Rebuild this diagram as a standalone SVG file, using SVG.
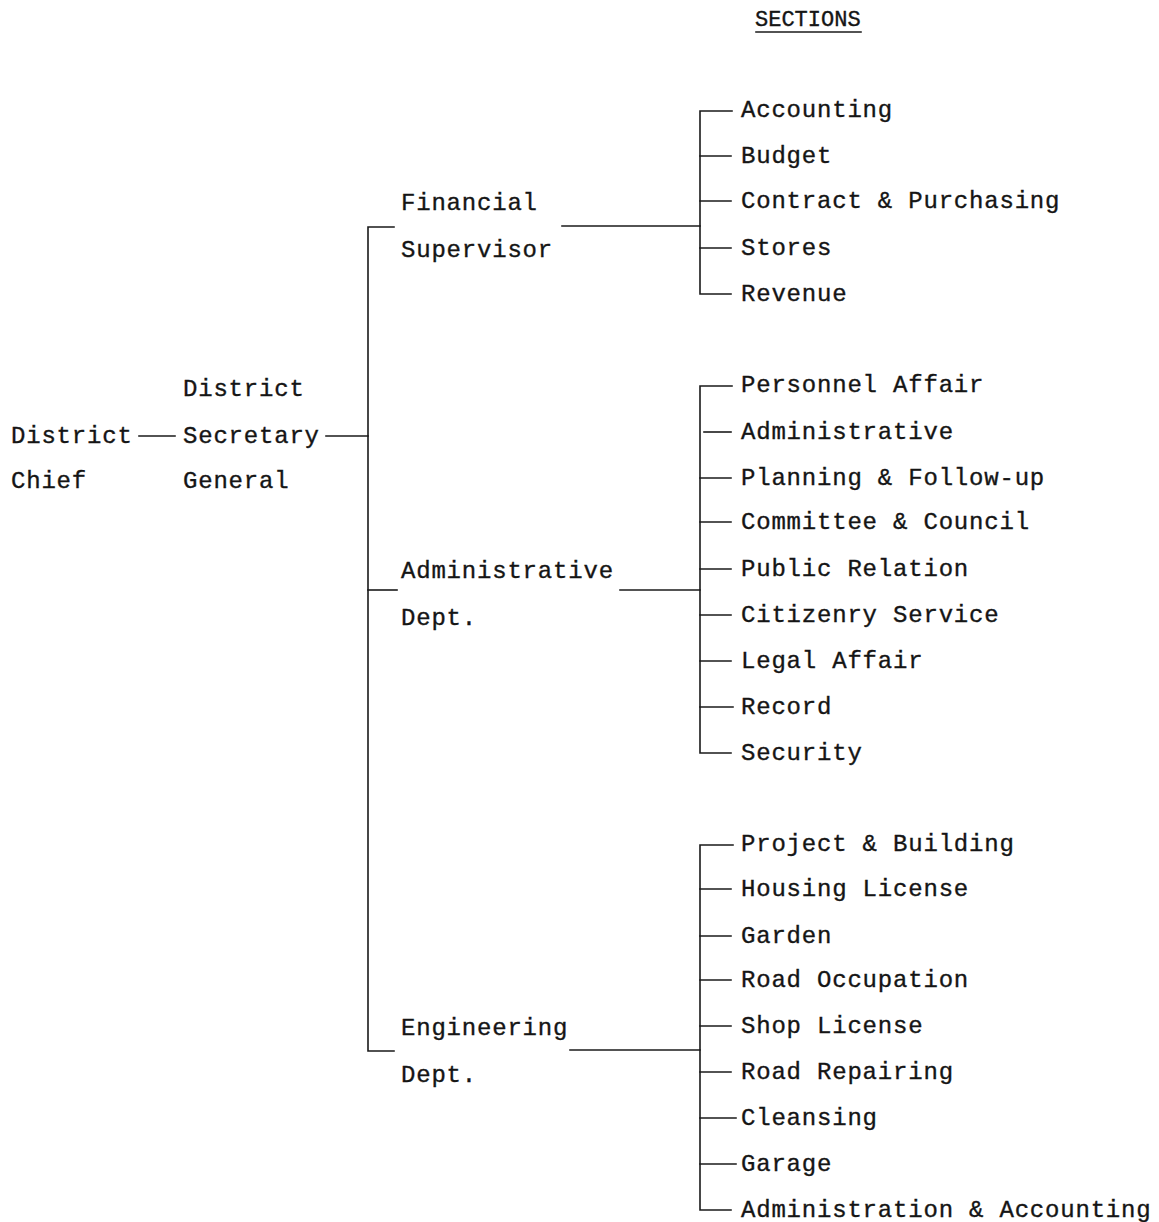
<svg xmlns="http://www.w3.org/2000/svg" width="1159" height="1222" viewBox="0 0 1159 1222">
  <style>
    text { font-family: "Liberation Mono", "Courier New", monospace; font-size: 24px; letter-spacing: 0.8px; fill: #151515; stroke: #151515; stroke-width: 0.35px; }
    .head { font-size: 22px; letter-spacing: 0; }
    .ln { stroke: #1a1a1a; stroke-width: 1.6; fill: none; stroke-linecap: square; }
  </style>
  <rect width="1159" height="1222" fill="#ffffff"/>

  <!-- heading -->
  <g id="heading">
    <text class="head" x="755" y="26">SECTIONS</text>
    <line class="ln" x1="756" y1="32" x2="861" y2="32"/>
  </g>

  <!-- top levels -->
  <g id="district-chief">
    <text x="11" y="443">District</text>
    <text x="11" y="488">Chief</text>
  </g>
  <g id="secretary-general">
    <text x="183" y="396">District</text>
    <text x="183" y="443">Secretary</text>
    <text x="183" y="488">General</text>
  </g>

  <!-- departments -->
  <g id="financial-supervisor">
    <text x="401" y="210">Financial</text>
    <text x="401" y="257">Supervisor</text>
  </g>
  <g id="administrative-dept">
    <text x="401" y="578">Administrative</text>
    <text x="401" y="625">Dept.</text>
  </g>
  <g id="engineering-dept">
    <text x="401" y="1035">Engineering</text>
    <text x="401" y="1082">Dept.</text>
  </g>

  <!-- sections under Financial Supervisor -->
  <g id="fin-sections">
    <g id="s-accounting"><text x="741" y="117">Accounting</text></g>
    <g id="s-budget"><text x="741" y="163">Budget</text></g>
    <g id="s-contract"><text x="741" y="208">Contract &amp; Purchasing</text></g>
    <g id="s-stores"><text x="741" y="255">Stores</text></g>
    <g id="s-revenue"><text x="741" y="301">Revenue</text></g>
  </g>

  <!-- sections under Administrative Dept. -->
  <g id="adm-sections">
    <g id="s-personnel"><text x="741" y="392">Personnel Affair</text></g>
    <g id="s-administrative"><text x="741" y="439">Administrative</text></g>
    <g id="s-planning"><text x="741" y="485">Planning &amp; Follow-up</text></g>
    <g id="s-committee"><text x="741" y="529">Committee &amp; Council</text></g>
    <g id="s-public"><text x="741" y="576">Public Relation</text></g>
    <g id="s-citizenry"><text x="741" y="622">Citizenry Service</text></g>
    <g id="s-legal"><text x="741" y="668">Legal Affair</text></g>
    <g id="s-record"><text x="741" y="714">Record</text></g>
    <g id="s-security"><text x="741" y="760">Security</text></g>
  </g>

  <!-- sections under Engineering Dept. -->
  <g id="eng-sections">
    <g id="s-project"><text x="741" y="851">Project &amp; Building</text></g>
    <g id="s-housing"><text x="741" y="896">Housing License</text></g>
    <g id="s-garden"><text x="741" y="943">Garden</text></g>
    <g id="s-road-occ"><text x="741" y="987">Road Occupation</text></g>
    <g id="s-shop"><text x="741" y="1033">Shop License</text></g>
    <g id="s-road-rep"><text x="741" y="1079">Road Repairing</text></g>
    <g id="s-cleansing"><text x="741" y="1125">Cleansing</text></g>
    <g id="s-garage"><text x="741" y="1171">Garage</text></g>
    <g id="s-admin-acc"><text x="741" y="1217">Administration &amp; Accounting</text></g>
  </g>

  <!-- connectors -->
  <g id="connectors">
    <!-- chief to secretary general to departments -->
    <line class="ln" x1="139" y1="436" x2="175" y2="436"/>
    <line class="ln" x1="326" y1="436" x2="368" y2="436"/>
    <path class="ln" d="M394,227 H368 V1051 H394"/>
    <line class="ln" x1="368" y1="590" x2="397" y2="590"/>

    <!-- departments to section brackets -->
    <line class="ln" x1="562" y1="226" x2="700" y2="226"/>
    <line class="ln" x1="620" y1="590" x2="700" y2="590"/>
    <line class="ln" x1="570" y1="1050" x2="700" y2="1050"/>

    <!-- Financial bracket -->
    <path class="ln" d="M732,111 H700 V294 H731"/>
    <line class="ln" x1="700" y1="156" x2="731" y2="156"/>
    <line class="ln" x1="700" y1="201" x2="731" y2="201"/>
    <line class="ln" x1="700" y1="248" x2="731" y2="248"/>

    <!-- Administrative bracket -->
    <path class="ln" d="M732,386 H700 V753 H731"/>
    <line class="ln" x1="704" y1="432" x2="731" y2="432"/>
    <line class="ln" x1="700" y1="478" x2="731" y2="478"/>
    <line class="ln" x1="700" y1="522" x2="731" y2="522"/>
    <line class="ln" x1="700" y1="569" x2="731" y2="569"/>
    <line class="ln" x1="700" y1="615" x2="731" y2="615"/>
    <line class="ln" x1="700" y1="661" x2="731" y2="661"/>
    <line class="ln" x1="700" y1="707" x2="733" y2="707"/>

    <!-- Engineering bracket -->
    <path class="ln" d="M733,845 H700 V1210 H731"/>
    <line class="ln" x1="700" y1="889" x2="731" y2="889"/>
    <line class="ln" x1="700" y1="936" x2="731" y2="936"/>
    <line class="ln" x1="700" y1="980" x2="731" y2="980"/>
    <line class="ln" x1="700" y1="1026" x2="731" y2="1026"/>
    <line class="ln" x1="700" y1="1072" x2="731" y2="1072"/>
    <line class="ln" x1="700" y1="1118" x2="736" y2="1118"/>
    <line class="ln" x1="700" y1="1164" x2="736" y2="1164"/>
  </g>
</svg>
